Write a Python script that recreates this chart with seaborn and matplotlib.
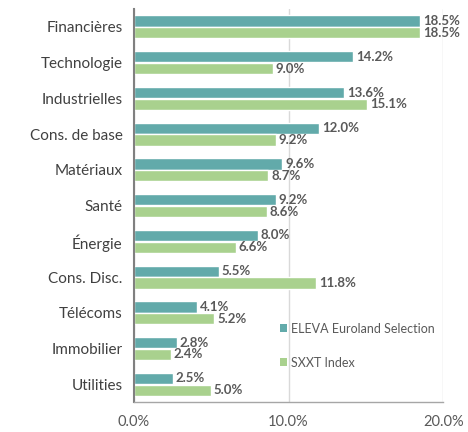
import matplotlib
matplotlib.use('Agg')
import matplotlib.pyplot as plt
import seaborn as sns
import pandas as pd
from matplotlib.patches import Patch

sectors = ['Financières', 'Technologie', 'Industrielles', 'Cons. de base', 'Matériaux',
           'Santé', 'Énergie', 'Cons. Disc.', 'Télécoms', 'Immobilier', 'Utilities']
eleva = [18.5, 14.2, 13.6, 12.0, 9.6, 9.2, 8.0, 5.5, 4.1, 2.8, 2.5]
sxxt = [18.5, 9.0, 15.1, 9.2, 8.7, 8.6, 6.6, 11.8, 5.2, 2.4, 5.0]
series = ['ELEVA Euroland Selection', 'SXXT Index']
colors = ['#62AAAA', '#A9D18E']
xticks = [0, 10, 20]

df = pd.DataFrame({
    'sector': sectors * 2,
    'value': eleva + sxxt,
    'series': [series[0]] * len(sectors) + [series[1]] * len(sectors),
})

sns.set_style('white')
plt.rcParams['font.family'] = ['Lato', 'DejaVu Sans']

fig = plt.figure(figsize=(4.68, 4.32), dpi=100)
ax = fig.add_axes([0.286, 0.069, 0.661, 0.91])

sns.barplot(data=df, x='value', y='sector', hue='series', order=sectors,
            hue_order=series, palette=colors, orient='h', width=0.66,
            gap=0.05, saturation=1, ax=ax, legend=False)

txt = '#595959'
for i, cont in enumerate(ax.containers):
    ax.bar_label(cont, fmt='%.1f%%', padding=2, fontsize=9.5, fontweight='bold',
                 color=txt)

ax.set_xlim(0, 20)
ax.set_xticks(xticks)
ax.set_xticklabels([f'{t:.1f}%' for t in xticks], fontsize=10.5, color=txt)
ax.tick_params(axis='y', labelsize=11, colors='#404040', length=0, pad=8)
ax.tick_params(axis='x', length=0, pad=9)
ax.set_xlabel('')
ax.set_ylabel('')
ax.xaxis.grid(True, color='#D9D9D9', linewidth=1)
ax.set_axisbelow(True)
for s in ['top', 'right']:
    ax.spines[s].set_visible(False)
ax.spines['left'].set_color('#808080')
ax.spines['left'].set_linewidth(1.5)
ax.spines['bottom'].set_color('#A6A6A6')
ax.spines['bottom'].set_linewidth(1)

handles = [Patch(facecolor=c, edgecolor='none') for c in colors]
ax.legend(handles, series, frameon=False, loc='upper left',
          bbox_to_anchor=(0.455, 0.215), fontsize=9, labelcolor=txt,
          handlelength=0.6, handleheight=0.6, handletextpad=0.3,
          labelspacing=1.75, borderaxespad=0)

fig.savefig('out.png', dpi=100)
